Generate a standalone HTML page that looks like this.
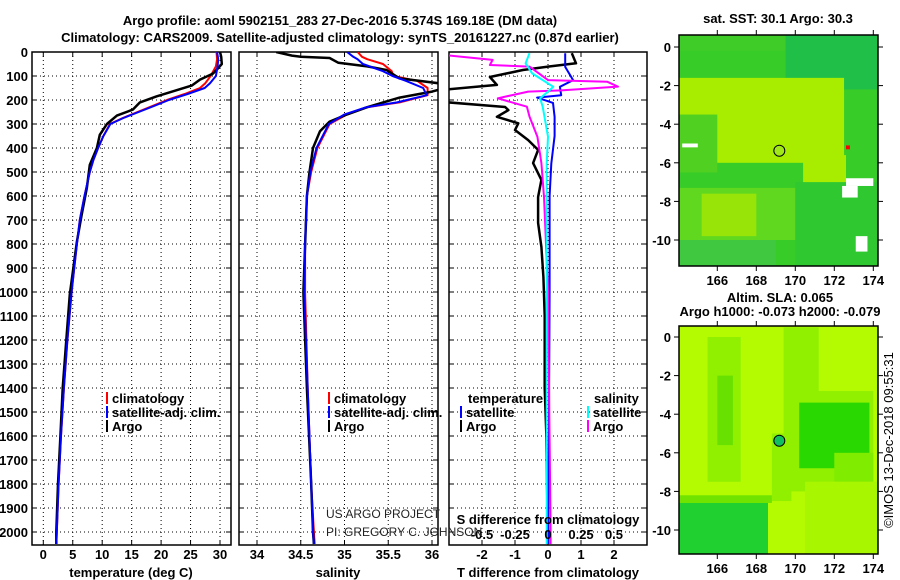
<!DOCTYPE html>
<html><head><meta charset="utf-8"><style>
html,body{margin:0;padding:0;background:#fff;}
svg{display:block;font-family:"Liberation Sans",sans-serif;}
.b{font-weight:bold;font-size:13px;}
</style></head><body>
<svg id="s" width="900" height="580" viewBox="0 0 900 580" xmlns="http://www.w3.org/2000/svg">
<defs>
<clipPath id="c1"><rect x="32" y="52" width="199" height="493"/></clipPath>
<clipPath id="c2"><rect x="239" y="52" width="199" height="493"/></clipPath>
<clipPath id="c3"><rect x="449" y="52" width="198" height="493"/></clipPath>
<clipPath id="cm1"><rect x="679" y="35" width="199" height="231"/></clipPath>
<clipPath id="cm2"><rect x="679" y="326" width="199" height="228"/></clipPath>
</defs>
<text class="b" x="340" y="25" text-anchor="middle" font-size="14">Argo profile: aoml 5902151_283 27-Dec-2016 5.374S 169.18E (DM data)</text>
<text class="b" x="340" y="42" text-anchor="middle" font-size="14">Climatology: CARS2009. Satellite-adjusted climatology: synTS_20161227.nc (0.87d earlier)</text>
<g id="g"></g>
</svg>
<script>
// ---- data ----
const depthTicks=[0,100,200,300,400,500,600,700,800,900,1000,1100,1200,1300,1400,1500,1600,1700,1800,1900,2000];
const tempTicks=[0,5,10,15,20,25,30];
const salTicks=[34,34.5,35,35.5,36];
const salTickLabels=["34","34.5","35","35.5","36"];
const tdTicks=[-2,-1,0,1,2];
const sdTicks=[-0.5,-0.25,0,0.25,0.5];
const sdTickLabels=["-0.5","-0.25","0","0.25","0.5"];

const climDepth=[0,30,60,100,130,150,175,200,225,250,275,300,350,400,450,500,600,700,800,1000,1200,1400,1600,1800,2000,2050];
const climTemp=[29.4,29.5,29.3,28.4,27.5,26.6,24,21,18.5,16,13.5,11.3,10.2,9.3,8.5,7.9,7.0,6.2,5.7,4.8,4.1,3.5,3.0,2.6,2.3,2.2];
const satTemp=[29.5,29.7,29.6,29.3,28.3,27.4,24.5,21.3,18.8,16.2,13.6,11.4,10.2,9.3,8.5,7.9,7.0,6.2,5.7,4.8,4.1,3.5,3.0,2.6,2.3,2.2];
const argoTDepth=[0,20,50,70,90,115,140,155,185,210,240,265,300,345,400,470,565,680,790,1010,1200,1400,1600,1800,2000,2050];
const argoTemp=[30.0,30.2,30.3,29.6,28.8,26.6,25.2,23.2,19.2,16.4,15.2,12.5,10.8,9.6,9.1,7.9,7.4,6.5,5.7,4.5,3.9,3.3,2.9,2.5,2.2,2.2];

const salDepth=[0,20,30,50,80,100,120,150,180,210,230,260,300,400,500,600,800,1000,1400,1800,2000,2050];
const climSal=[35.15,35.2,35.26,35.44,35.54,35.56,35.83,35.95,35.95,35.63,35.26,35.03,34.83,34.69,34.62,34.57,34.55,34.55,34.58,34.62,34.65,34.66];
const satSal=[35.03,35.1,35.15,35.21,35.44,35.55,35.7,35.9,35.94,35.6,35.25,35.0,34.82,34.68,34.61,34.57,34.55,34.54,34.58,34.62,34.64,34.65];
const argoSDepth=[0,15,20,25,45,60,75,110,130,145,165,190,230,260,290,330,400,500,600,1000,1400,1800,2000,2050];
const argoSal=[34.22,34.4,34.5,34.83,34.93,35.26,35.48,35.63,36.07,36.2,36.0,35.63,35.26,35.03,34.83,34.72,34.64,34.6,34.57,34.53,34.57,34.62,34.64,34.65];

const argoTdDepth=[5,47,61,75,104,137,158,208,229,242,270,297,325,367,408,463,533,604,712,812,937,1100,1400,1600,1800,2000,2050];
const argoTd=[0.72,0.85,0.0,-0.76,-1.76,-1.55,-3.2,-3.2,-1.3,-1.2,-1.55,-0.9,-1.0,-0.6,-0.3,-0.45,-0.2,-0.3,-0.3,-0.2,-0.14,-0.1,-0.1,-0.05,-0.03,0,0];
const satTdDepth=[5,62,117,145,180,190,212,270,350,465,600,1000,1500,2000,2050];
const satTd=[0.52,0.52,0.76,0.36,0.4,-0.33,0.15,0.2,0.2,0.1,0.05,0.05,0.03,0.0,0.0];
const satSdDepth=[5,47,89,145,165,193,228,353,463,1000,2000,2050];
const satSd=[-0.14,-0.17,-0.12,0.04,0.0,-0.06,-0.04,0.0,-0.01,-0.01,-0.01,-0.01];
const argoSdDepth=[12,33,54,61,117,124,144,160,165,193,228,269,353,463,603,1000,2000,2050];
const argoSd=[-0.8,-0.42,-0.44,-0.14,0.0,0.45,0.53,0.1,-0.15,-0.38,-0.16,-0.14,-0.08,-0.05,-0.03,0.0,0.02,0.02];

const lonTicks=[166,168,170,172,174];
const latTicks=[0,-2,-4,-6,-8,-10];
const floatLon=169.18, floatLat=-5.374;

// ---- helpers ----
const NS="http://www.w3.org/2000/svg";
const G=document.getElementById('g');
function el(t,a,p){const e=document.createElementNS(NS,t);for(const k in a)e.setAttribute(k,a[k]);(p||G).appendChild(e);return e;}
const yD=d=>52+d*0.24;
const xT=t=>43.3+t*5.89;
const xS=s=>257+(s-34)*87.5;
const xTd=v=>548+v*33;
const xSd=v=>548+v*132;
const mx=lon=>717.3+(lon-166)*19.5;
const my1=lat=>47-lat*19.3;
const my2=lat=>337-lat*19.3;

function line(xs,ds,fx,color,w,clip,name){
  const pts=xs.map((v,i)=>fx(v).toFixed(1)+','+yD(ds[i]).toFixed(1)).join(' ');
  const e=el('polyline',{points:pts,fill:'none',stroke:color,'stroke-width':w,'clip-path':'url(#'+clip+')','stroke-linejoin':'round'});
  
  
}
function panel(x0,x1,clip,ticks,fx,labels,name){
  const g=el('g',{});
  
  
  ticks.forEach(t=>el('line',{x1:fx(t),x2:fx(t),y1:52,y2:545,stroke:'#000','stroke-width':1,'stroke-dasharray':'1,3'},g));
  depthTicks.forEach(d=>{el('line',{x1:x0,x2:x1,y1:yD(d),y2:yD(d),stroke:'#000','stroke-width':1,'stroke-dasharray':'1,3'},g);
    el('line',{x1:x0,x2:x0+5,y1:yD(d),y2:yD(d),stroke:'#000'},g);el('line',{x1:x1-5,x2:x1,y1:yD(d),y2:yD(d),stroke:'#000'},g);});
  ticks.forEach((t,i)=>{el('line',{x1:fx(t),x2:fx(t),y1:540,y2:545,stroke:'#000'},g);el('line',{x1:fx(t),x2:fx(t),y1:52,y2:57,stroke:'#000'},g);
    if(labels){const tx=el('text',{x:fx(t),y:559,'text-anchor':'middle',class:'b'},g);tx.textContent=labels[i];}});
  el('rect',{x:x0,y:52,width:x1-x0,height:493,fill:'none',stroke:'#000','stroke-width':1.5},g);
}
panel(32,231,'c1',tempTicks,xT,tempTicks.map(String),'temperature-panel');
panel(239,438,'c2',salTicks,xS,salTickLabels,'salinity-panel');
panel(449,647,'c3',tdTicks,xTd,tdTicks.map(String),'difference-panel');
depthTicks.forEach(d=>{const t=el('text',{x:28,y:yD(d)+5,'text-anchor':'end',class:'b'});t.textContent=d;
  
  });

// lines
line(climTemp,climDepth,xT,'#f00',2,'c1','temp-climatology-line');
line(argoTemp,argoTDepth,xT,'#000',2.5,'c1','temp-argo-line');
line(satTemp,climDepth,xT,'#00f',2,'c1','temp-satellite-line');
line(climSal,salDepth,xS,'#f00',2,'c2','sal-climatology-line');
line(argoSal,argoSDepth,xS,'#000',2.5,'c2','sal-argo-line');
line(satSal,salDepth,xS,'#00f',2,'c2','sal-satellite-line');
line(argoTd,argoTdDepth,xTd,'#000',2.5,'c3','tdiff-argo-line');
line(satTd,satTdDepth,xTd,'#00f',2,'c3','tdiff-satellite-line');
line(argoSd,argoSdDepth,xSd,'#f0f',2,'c3','sdiff-argo-line');
line(satSd,satSdDepth,xSd,'#0ff',2,'c3','sdiff-satellite-line');

// labels
function txt(x,y,s,name,opts){const t=el('text',Object.assign({x:x,y:y,class:'b'},opts||{}));t.textContent=s;
  
  return t;}
txt(131,577,'temperature (deg C)','x-axis-title-temperature',{'text-anchor':'middle'});
txt(338,577,'salinity','x-axis-title-salinity',{'text-anchor':'middle'});
txt(548,577,'T difference from climatology','x-axis-title-tdiff',{'text-anchor':'middle'});
txt(548,524,'S difference from climatology','s-diff-title',{'text-anchor':'middle'});
sdTicks.forEach((v,i)=>{txt(xSd(v),539,sdTickLabels[i],'s-diff-tick-label',{'text-anchor':'middle'});});
txt(326,518,'US ARGO PROJECT','project-credit',{class:'',style:'font-size:12px;fill:#222'});
txt(326,536,'PI: GREGORY C. JOHNSON','pi-credit',{class:'',style:'font-size:12px;fill:#222'});
function leg(x,y,c,s,name){const r=el('rect',{x:x,y:y-11,width:2,height:12,fill:c});txt(x+6,y,s,name);}
leg(106,403,'#f00','climatology','legend-climatology');
leg(106,417,'#00f','satellite-adj. clim.','legend-satellite-adj');
leg(106,431,'#000','Argo','legend-argo');
leg(328,403,'#f00','climatology','legend-sal-climatology');
leg(328,417,'#00f','satellite-adj. clim.','legend-sal-satellite-adj');
leg(328,431,'#000','Argo','legend-sal-argo');
txt(468,403,'temperature','legend-temperature-header');
txt(594,403,'salinity','legend-salinity-header');
leg(460,417,'#00f','satellite','legend-tdiff-satellite');
leg(460,431,'#000','Argo','legend-tdiff-argo');
leg(587,417,'#0ff','satellite','legend-sdiff-satellite');
leg(587,431,'#f0f','Argo','legend-sdiff-argo');

// maps
function map(top,bot,my,clip,regions,base,circleFill,name){
  const g=el('g',{});
  
  
  const cg=el('g',{'clip-path':'url(#'+clip+')'},g);
  el('rect',{x:679,y:top,width:199,height:bot-top,fill:base},cg);
  regions.forEach(r=>el('rect',{x:mx(r[0]),y:my(r[3]),width:mx(r[1])-mx(r[0]),height:my(r[2])-my(r[3]),fill:r[4]},cg));
  el('rect',{x:679,y:top,width:199,height:bot-top,fill:'none',stroke:'#000','stroke-width':1.5},g);
  lonTicks.forEach(l=>{el('line',{x1:mx(l),x2:mx(l),y1:top-5,y2:top,stroke:'#000'},g);el('line',{x1:mx(l),x2:mx(l),y1:bot,y2:bot+5,stroke:'#000'},g);
    const t=el('text',{x:mx(l),y:bot+19,'text-anchor':'middle',class:'b'},g);t.textContent=l;});
  latTicks.forEach(l=>{el('line',{x1:674,x2:679,y1:my(l),y2:my(l),stroke:'#000'},g);el('line',{x1:878,x2:883,y1:my(l),y2:my(l),stroke:'#000'},g);
    const t=el('text',{x:671,y:my(l)+5,'text-anchor':'end',class:'b'},g);t.textContent=l;});
  el('circle',{cx:mx(floatLon),cy:my(floatLat),r:5.5,fill:circleFill,stroke:'#000','stroke-width':1},g);
}
const sstRegions=[
 [164,175,-0.2,1,'#40cc28'],[169.5,175,-2.2,1,'#20c048'],
 [164,172.5,-6,-1.6,'#a8ec00'],[164,166,-6.5,-3.5,'#50d020'],[170.4,172.6,-7.2,-5.6,'#a8ec00'],
 [164,170,-10,-7.3,'#60d820'],[165.2,168,-9.8,-7.6,'#98e408'],[170,175,-11.5,-7,'#30c830'],
 [172.6,174,-7.2,-6.8,'#ffffff'],[172.4,173.2,-7.8,-7.2,'#ffffff'],[173.1,173.7,-10.6,-9.8,'#ffffff'],
 [164,169,-11.5,-10,'#40c840'],[172.6,172.8,-5.3,-5.1,'#ff0000'],[164.2,165,-5.2,-5.0,'#ffffff']];
map(35,266,my1,'cm1',sstRegions,'#38cc28','#a0e818','sst-map');
const slaRegions=[
 [164,175,-9,1,'#b4fa00'],[165.5,167.2,-7.5,0,'#90f000'],[166,166.8,-5.6,-2,'#68e000'],
 [169.4,171.2,-8,0.5,'#90f000'],[168.8,169.8,-8.5,-5,'#90f000'],
 [169.8,174,-7.5,-2.8,'#90f000'],[170.2,173.8,-6.8,-3.4,'#28d800'],[172,174,-7.5,-6,'#80ec00'],
 [170.5,174.5,-11.5,-7.5,'#a8f600'],[164,168.6,-11.5,-8.5,'#20d030'],[164,168.8,-8.6,-8.2,'#70e400']];
map(326,554,my2,'cm2',slaRegions,'#b4fa00','#10c060','sla-map');
txt(778,23,'sat. SST: 30.1 Argo: 30.3','sst-map-title',{'text-anchor':'middle'});
txt(780,302,'Altim. SLA: 0.065','sla-map-title',{'text-anchor':'middle'});
txt(780,316,'Argo h1000: -0.073 h2000: -0.079','argo-height-title',{'text-anchor':'middle'});
txt(893,440,'©IMOS 13-Dec-2018 09:55:31','imos-credit',{'text-anchor':'middle',class:'',style:'font-size:13px',transform:'rotate(-90 893 440)'});
</script>
</body></html>
